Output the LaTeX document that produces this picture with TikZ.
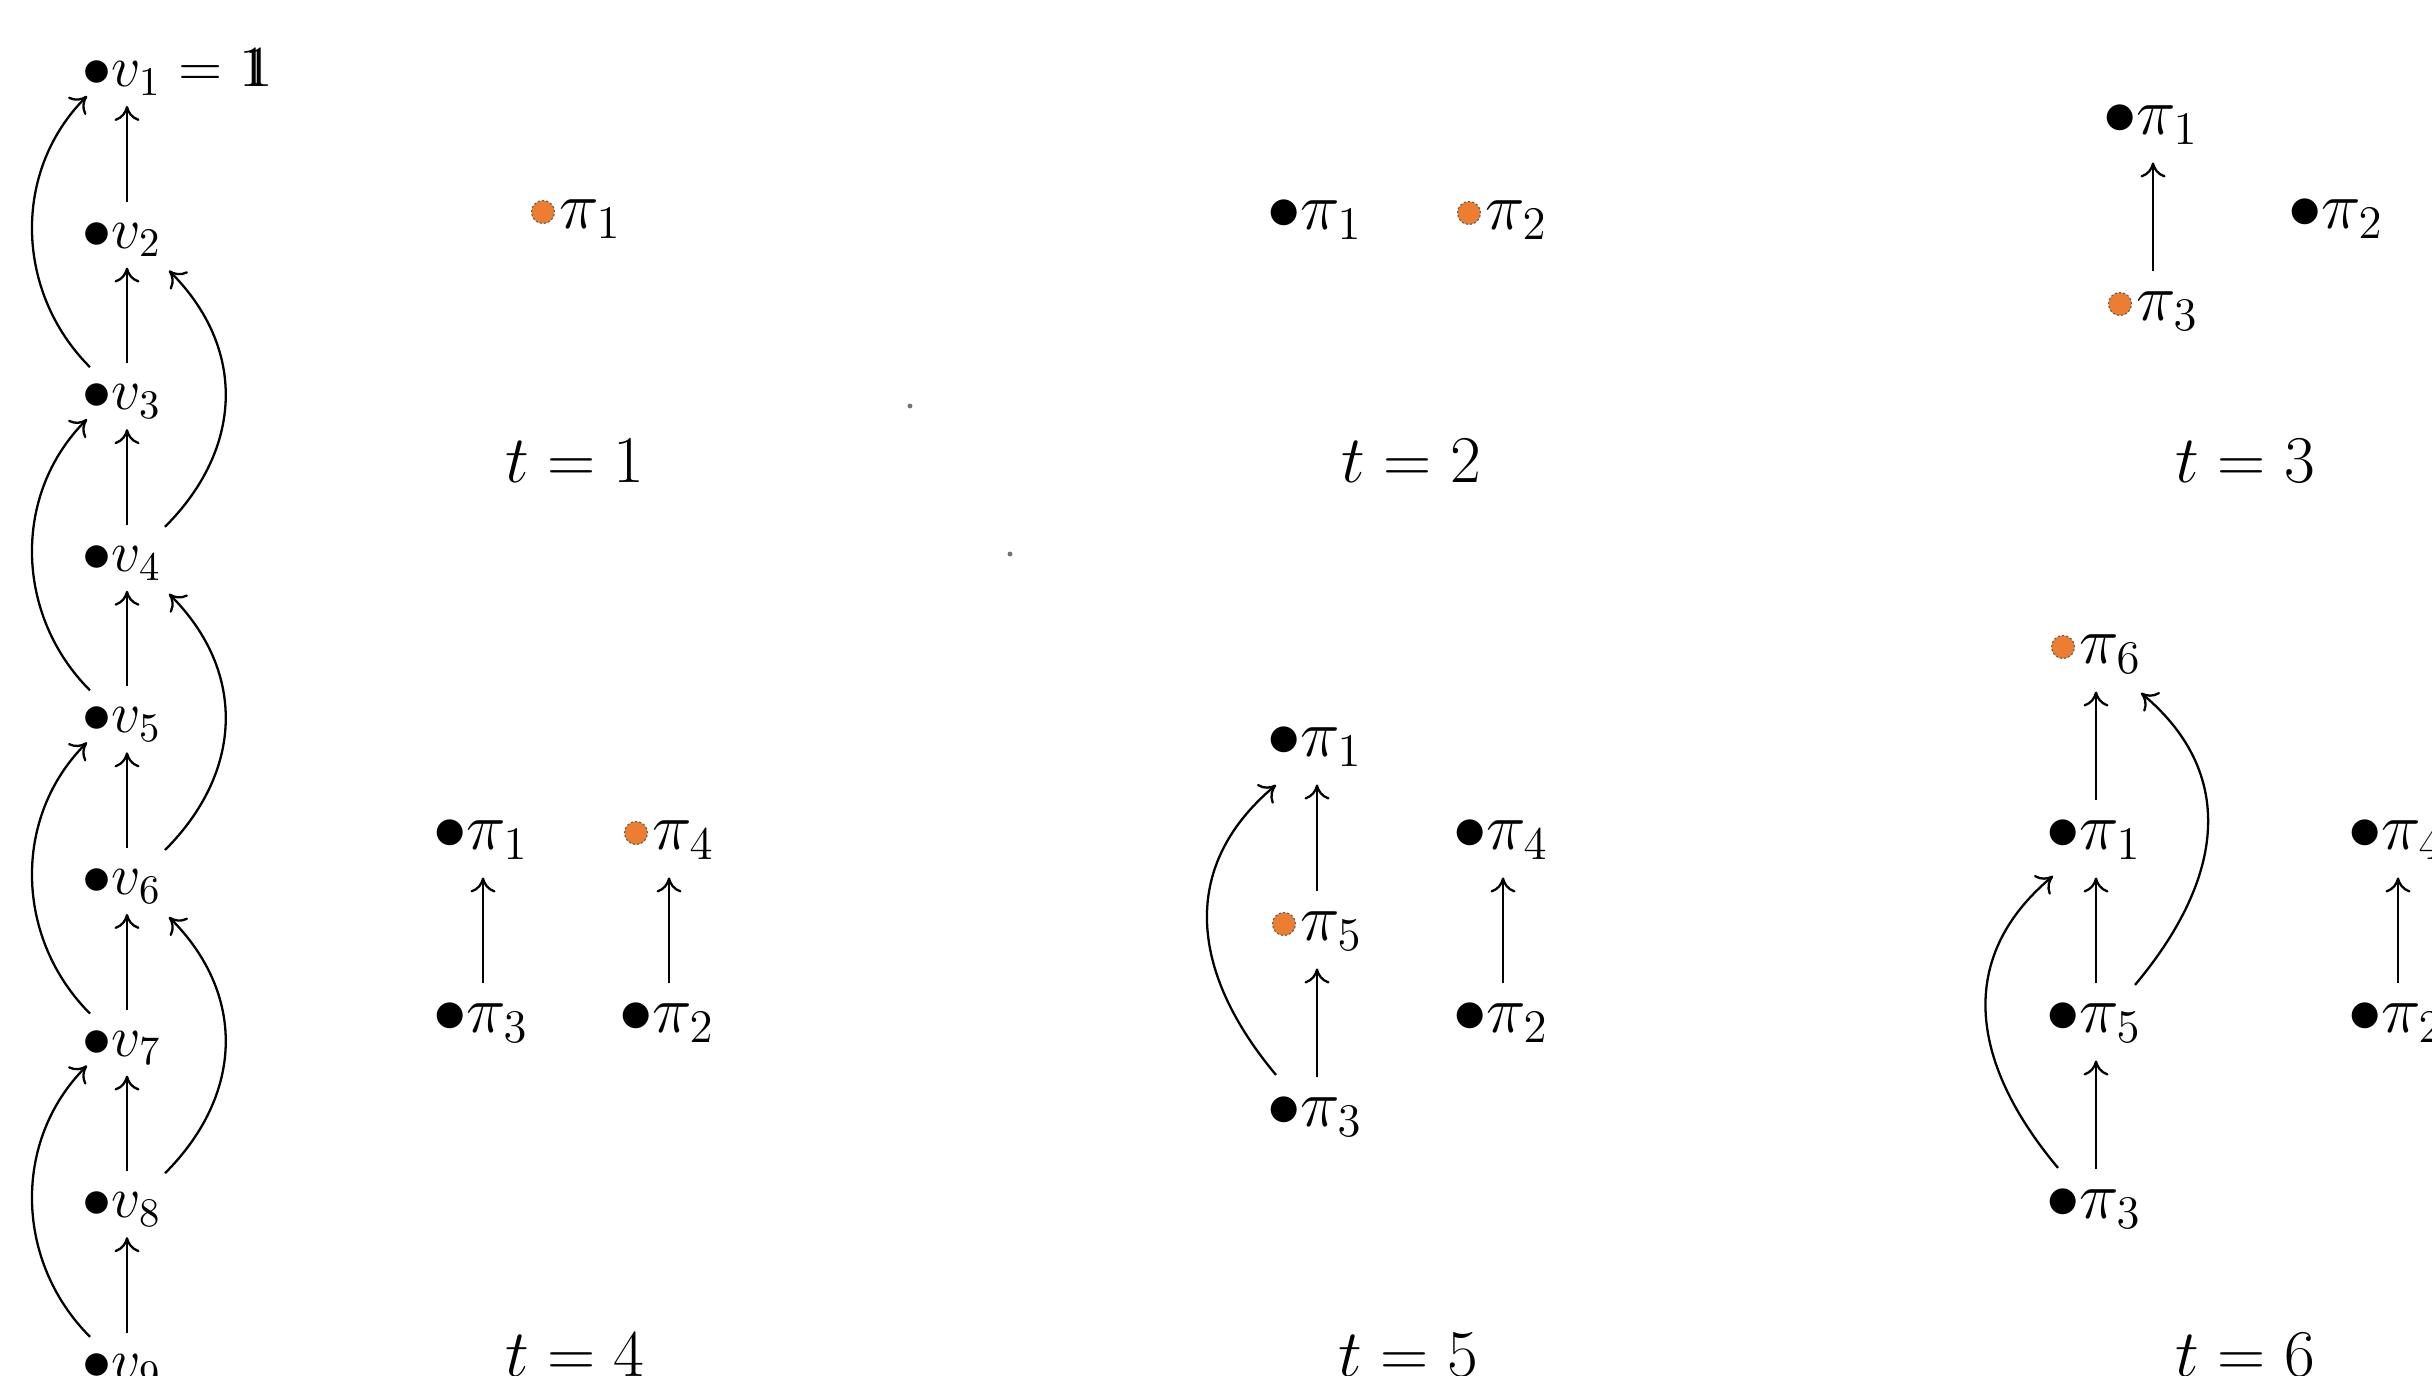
\documentclass[tikz,border=0pt]{standalone}
\usepackage{fix-cm}
\usetikzlibrary{arrows.meta}
\definecolor{dotorange}{RGB}{237,125,49}
\tikzset{
  pnode/.style={inner sep=0pt, font=\fontsize{19}{23}\selectfont, xshift=0.33cm, yshift=-0.069cm},
  vnode/.style={inner sep=0pt, font=\fontsize{16.5}{20}\selectfont, xshift=0.29cm, yshift=-0.06cm},
  vtext/.style={inner sep=0pt, font=\fontsize{16.5}{20}\selectfont},
  tlab/.style={inner sep=0pt, anchor=base, font=\fontsize{19}{23}\selectfont},
  odot/.style={circle, minimum size=0.23cm, inner sep=0pt, fill=dotorange, draw=black!65, line width=0.3pt, dash pattern=on 0.6pt off 0.6pt},
  arr/.style={-{Computer Modern Rightarrow[width=0.25cm,length=0.15cm]}, line width=0.65pt},
  parr/.style={arr, shorten <=0.19cm, shorten >=0.17cm},
  varr/.style={arr, shorten <=0.20cm, shorten >=0.10cm}
}
\newcommand{\pl}[1]{$\bullet\pi_{#1}$\kern0.046cm}
\newcommand{\po}[1]{$\phantom{\bullet}\pi_{#1}$\kern0.046cm}
\newcommand{\vl}[1]{$\bullet v_{#1}$\kern0.1cm}
\begin{document}
\begin{tikzpicture}[x=0.01cm,y=-0.01cm]
\useasboundingbox (0,0) rectangle (2432,1375);
\clip (0,0) rectangle (2432,1375);

% ---------- left chain ----------
\node[vnode] (v1) at (98,72) {\vl{1}};
\node[vtext, anchor=base west, xshift=-0.1cm] (v1eq) at (v1.base east) {${}={}$\rlap{$1$}\hspace{0.09em}$1$};
\node[vnode] (v2) at (98,233.6) {\vl{2}};
\node[vnode] (v3) at (98,395.2) {\vl{3}};
\node[vnode] (v4) at (98,556.8) {\vl{4}};
\node[vnode] (v5) at (98,718.4) {\vl{5}};
\node[vnode] (v6) at (98,880) {\vl{6}};
\node[vnode] (v7) at (98,1041.6) {\vl{7}};
\node[vnode] (v8) at (98,1203.2) {\vl{8}};
\node[vnode] (v9) at (98,1364.8) {\vl{9}};

\draw[varr] (v2) -- (v1);
\draw[varr] (v3) -- (v2);
\draw[varr] (v4) -- (v3);
\draw[varr] (v5) -- (v4);
\draw[varr] (v6) -- (v5);
\draw[varr] (v7) -- (v6);
\draw[varr] (v8) -- (v7);
\draw[varr] (v9) -- (v8);

\foreach \a/\b in {v3/v1, v5/v3, v7/v5, v9/v7}
  \draw[arr] ([shift={(-37,-34)}]\a.center) to[out=135,in=225] ([shift={(-40,18)}]\b.center);
\foreach \a/\b in {v4/v2, v6/v4, v8/v6}
  \draw[arr] ([shift={(38,-36)}]\a.center) to[out=45,in=315,looseness=1.1] ([shift={(42,31)}]\b.center);

% ---------- t = 1 ----------
\node[pnode] (a1) at (543,212) {\po{1}};
\node[odot] (a1d) at (543,212) {};
\node[tlab] (la) at (575,482) {$t=1$};
\fill[black!55] (910,406) circle (0.7pt);
\fill[black!55] (1010,554) circle (0.7pt);

% ---------- t = 2 ----------
\node[pnode] (b1) at (1284,213) {\pl{1}};
\node[pnode] (b2) at (1469,213) {\po{2}};
\node[odot] (b2d) at (1469,213) {};
\node[tlab] (lb) at (1411,482) {$t=2$};

% ---------- t = 3 ----------
\node[pnode] (c1) at (2120,118) {\pl{1}};
\node[pnode] (c3) at (2120,304) {\po{3}};
\node[odot] (c3d) at (2120,304) {};
\node[pnode] (c2) at (2305,212) {\pl{2}};
\draw[parr] (c3) -- (c1);
\node[tlab] (lc) at (2245,482) {$t=3$};

% ---------- t = 4 ----------
\node[pnode] (d1) at (450,833) {\pl{1}};
\node[pnode] (d4) at (636,833) {\po{4}};
\node[odot] (d4d) at (636,833) {};
\node[pnode] (d3) at (450,1016) {\pl{3}};
\node[pnode] (d2) at (636,1016) {\pl{2}};
\draw[parr] (d3) -- (d1);
\draw[parr] (d2) -- (d4);
\node[tlab] (ld) at (575,1376) {$t=4$};

% ---------- t = 5 ----------
\node[pnode] (e1) at (1284,740) {\pl{1}};
\node[pnode] (e5) at (1284,924) {\po{5}};
\node[odot] (e5d) at (1284,924) {};
\node[pnode] (e3) at (1284,1110) {\pl{3}};
\node[pnode] (e4) at (1470,833) {\pl{4}};
\node[pnode] (e2) at (1470,1016) {\pl{2}};
\draw[parr] (e5) -- (e1);
\draw[parr] (e3) -- (e5);
\draw[parr] (e2) -- (e4);
\draw[arr] ([shift={(-41,-42)}]e3.center) to[out=130,in=220,looseness=1.15] ([shift={(-41,38)}]e1.center);
\node[tlab] (le) at (1408,1376) {$t=5$};

% ---------- t = 6 ----------
\node[pnode] (f6) at (2063,647) {\po{6}};
\node[odot] (f6d) at (2063,647) {};
\node[pnode] (f1) at (2063,833) {\pl{1}};
\node[pnode] (f5) at (2063,1016) {\pl{5}};
\node[pnode] (f3) at (2063,1202) {\pl{3}};
\node[pnode] (f4) at (2365,833) {\pl{4}};
\node[pnode] (f2) at (2365,1016) {\pl{2}};
\draw[parr] (f1) -- (f6);
\draw[parr] (f5) -- (f1);
\draw[parr] (f3) -- (f5);
\draw[parr] (f2) -- (f4);
\draw[arr] ([shift={(-38,-41)}]f3.center) to[out=130,in=220,looseness=1.15] ([shift={(-43,36)}]f1.center);
\draw[arr] ([shift={(39,-38)}]f5.center) to[out=50,in=320,looseness=1.15] ([shift={(45,39)}]f6.center);
\node[tlab] (lf) at (2245,1376) {$t=6$};
\end{tikzpicture}
\end{document}
